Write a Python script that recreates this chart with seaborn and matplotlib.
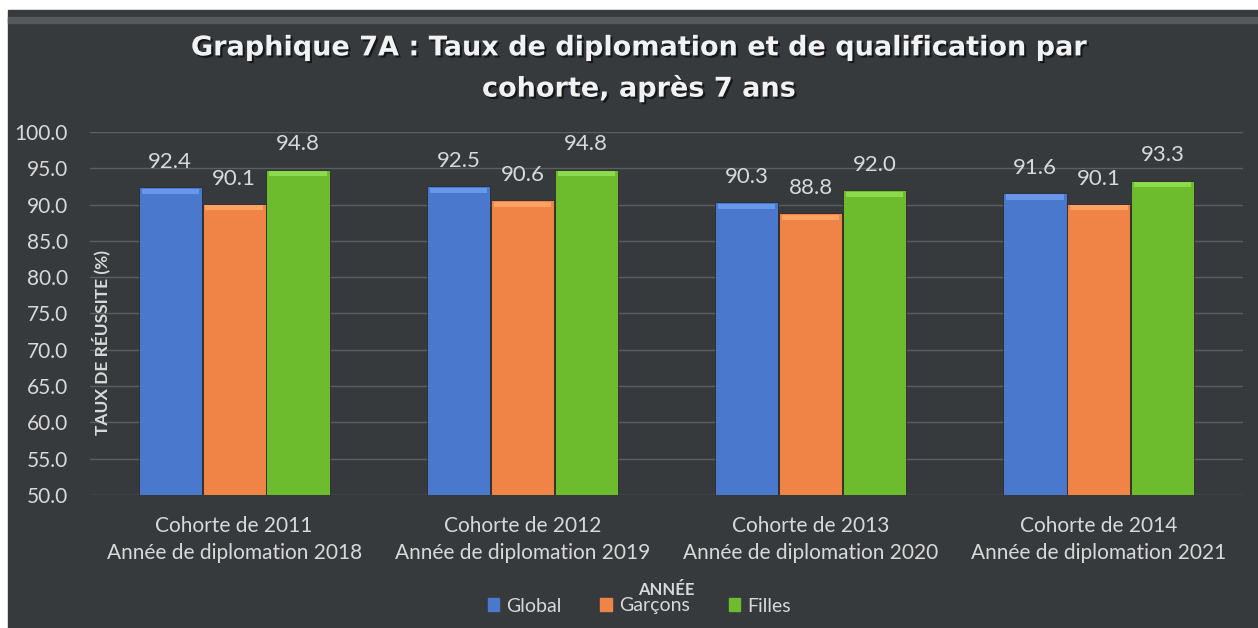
import numpy as np
import pandas as pd
from matplotlib import pyplot as plt
import seaborn as sns
from matplotlib import patches as mpatches
from matplotlib import patheffects as pe
from matplotlib import colors as mcolors

# valeurs
cohortes = ['Cohorte de 2011\nAnnée de diplomation 2018',
            'Cohorte de 2012\nAnnée de diplomation 2019',
            'Cohorte de 2013\nAnnée de diplomation 2020',
            'Cohorte de 2014\nAnnée de diplomation 2021']
series = ['Global', 'Garçons', 'Filles']
global_vals = [92.4, 92.5, 90.3, 91.6]
garcons_vals = [90.1, 90.6, 88.8, 90.1]
filles_vals = [94.8, 94.8, 92.0, 93.3]
yticks = [50, 55, 60, 65, 70, 75, 80, 85, 90, 95, 100]

colors = ['#4a78cc', '#ef8446', '#6cbc2e']
txt = '#d9d9d9'
bg = '#363a3d'

df = pd.DataFrame({
    'Cohorte': cohortes * 3,
    'Serie': ['Global'] * 4 + ['Garçons'] * 4 + ['Filles'] * 4,
    'Taux': global_vals + garcons_vals + filles_vals,
})

sns.set_style('dark')
plt.rcParams['font.family'] = ['Lato', 'DejaVu Sans']

fig = plt.figure(figsize=(12.58, 6.28), dpi=100, facecolor='white')
# dark panel with white border top/left
fig.patches.append(mpatches.Rectangle((8 / 1258, 0), 1 - 8 / 1258, 618 / 628,
                                      transform=fig.transFigure, color=bg, zorder=-10))
fig.patches.append(mpatches.Rectangle((8 / 1258, 605 / 628), 1 - 8 / 1258, 6 / 628,
                                      transform=fig.transFigure, color='#55595c', zorder=-9))

ax = fig.add_axes([90 / 1258, 1 - 495 / 628, 1153 / 1258, 363 / 628])
ax.set_facecolor('none')

sns.barplot(data=df, x='Cohorte', y='Taux', hue='Serie', hue_order=series,
            palette=colors, width=0.665, gap=0.012, ax=ax, legend=False,
            edgecolor='#2a2a2a', linewidth=0.6, saturation=1)

# light bevel on top of each bar
for cont, c in zip(ax.containers, colors):
    light = tuple(min(1, v + 0.12) for v in mcolors.to_rgb(c))
    for p in cont.patches:
        ax.add_patch(mpatches.Rectangle((p.get_x() + 0.01, p.get_y() + p.get_height() - 0.9),
                                        p.get_width() - 0.02, 0.7, color=light, lw=0, zorder=3))

for cont in ax.containers:
    ax.bar_label(cont, fmt='%.1f', padding=11, color=txt, fontsize=16)

ax.set_ylim(50, 100)
ax.set_yticks(yticks)
ax.set_yticklabels([f'{v:.1f}' for v in yticks])
ax.set_xlim(-0.5, 3.5)
ax.grid(axis='y', color='#5c5f62', linewidth=1)
ax.grid(axis='x', visible=False)
ax.set_axisbelow(True)
for s in ax.spines.values():
    s.set_visible(False)
ax.tick_params(axis='y', length=0, pad=16, labelsize=15, labelcolor=txt)
ax.tick_params(axis='x', length=0, pad=15, labelsize=15, labelcolor=txt)
for lab in ax.get_xticklabels():
    lab.set_linespacing(1.45)

ax.set_ylabel('TAUX DE RÉUSSITE (%)', color=txt, fontsize=12.5, fontweight='bold')
ax.yaxis.set_label_coords(0.018, 0.42)
ax.set_xlabel('ANNÉE', color=txt, fontsize=12, fontweight='bold')
ax.xaxis.set_label_coords(0.5, -0.24)

fig.text(0.508, 1 - 69 / 628,
         'Graphique 7A : Taux de diplomation et de qualification par\ncohorte, après 7 ans',
         ha='center', va='center', color='#f2f2f2', fontsize=19.5, fontweight='bold',
         family=['DejaVu Sans'], linespacing=1.6,
         path_effects=[pe.withSimplePatchShadow(offset=(1.5, -1.5), shadow_rgbFace='black', alpha=0.6)])

handles = [mpatches.Patch(color=c, label=s) for c, s in zip(colors, series)]
fig.legend(handles=handles, loc='center', bbox_to_anchor=(0.508, 1 - 606 / 628), ncol=3,
           frameon=False, labelcolor=txt, fontsize=14, handlelength=0.6, handleheight=0.6,
           handletextpad=0.35, columnspacing=2.0)

fig.savefig('out.png', dpi=100, facecolor=fig.get_facecolor())
